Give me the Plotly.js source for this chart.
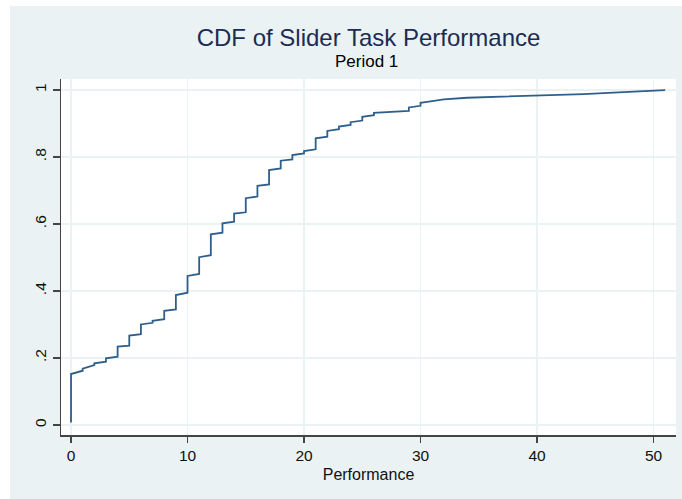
<!DOCTYPE html>
<html>
<head>
<meta charset="utf-8">
<script src="https://cdn.plot.ly/plotly-3.0.1.min.js"></script>
<style>
  html, body { margin: 0; padding: 0; background: #ffffff; }
  #chart { position: absolute; left: 10px; top: 6px; width: 672px; height: 493px; }
</style>
</head>
<body>
<div id="chart"></div>
<script>
// Distinct performance values and the CDF at the first / last observation of each value
const perf    = [0, 1, 2, 3, 4, 5, 6, 7, 8, 9, 10, 11, 12, 13, 14, 15, 16, 17, 18, 19, 20,
                 21, 22, 23, 24, 25, 26, 29, 30, 31, 32, 34, 40, 44, 47, 51];
const cdfLow  = [0.007, 0.162, 0.179, 0.189, 0.204, 0.237, 0.271, 0.305, 0.316, 0.345, 0.395,
                 0.451, 0.507, 0.574, 0.607, 0.635, 0.682, 0.718, 0.766, 0.793, 0.811,
                 0.823, 0.861, 0.883, 0.896, 0.909, 0.925, 0.938, 0.953, 0.967, 0.972,
                 0.977, 0.983, 0.988, 0.993, 1.000];
const cdfHigh = [0.152, 0.168, 0.184, 0.199, 0.234, 0.267, 0.300, 0.311, 0.341, 0.388, 0.445,
                 0.501, 0.569, 0.602, 0.631, 0.677, 0.714, 0.761, 0.789, 0.806, 0.818,
                 0.856, 0.878, 0.891, 0.904, 0.920, 0.932, 0.948, 0.962, 0.967, 0.972,
                 0.977, 0.983, 0.988, 0.993, 1.000];

const yTickVals = [0, 0.2, 0.4, 0.6, 0.8, 1];
const yTickText = ['0', '.2', '.4', '.6', '.8', '1'];
const xTickVals = [0, 10, 20, 30, 40, 50];

// Polyline through each observation: vertical run at each value, then on to the next
const lx = [], ly = [];
for (let i = 0; i < perf.length; i++) {
  lx.push(perf[i]); ly.push(cdfLow[i]);
  if (cdfHigh[i] !== cdfLow[i]) { lx.push(perf[i]); ly.push(cdfHigh[i]); }
}

const trace = {
  x: lx, y: ly, type: 'scatter', mode: 'lines',
  line: { color: '#2e5f8c', width: 1.8 },
  hoverinfo: 'x+y'
};

const font = 'Liberation Sans, Arial, Helvetica, sans-serif';

const layout = {
  width: 672, height: 493,
  margin: { l: 51, r: 6, t: 73, b: 64 },
  paper_bgcolor: '#eaf2f3',
  plot_bgcolor: '#ffffff',
  showlegend: false,
  font: { family: font, color: '#111111', size: 15 },
  title: {
    text: 'CDF of Slider Task Performance',
    font: { family: font, size: 24, color: '#1c2c55' },
    xref: 'paper', x: 0.5, xanchor: 'center',
    yref: 'container', y: 1 - 32 / 493, yanchor: 'middle'
  },
  annotations: [{
    text: 'Period 1', showarrow: false,
    xref: 'paper', yref: 'paper', x: 0.497, y: 1 + 18 / 356,
    xanchor: 'center', yanchor: 'middle',
    font: { family: font, size: 17, color: '#000000' }
  }],
  xaxis: {
    range: [-0.86, 51.93],
    tickvals: xTickVals,
    ticks: 'outside', ticklen: 6, tickwidth: 1.2, tickcolor: '#444444',
    showline: true, linecolor: '#444444', linewidth: 1.5,
    showgrid: true, gridcolor: '#eaf2f3', gridwidth: 1.2,
    zeroline: false,
    tickfont: { family: font, size: 15.5, color: '#111111' },
    title: { text: 'Performance', font: { family: font, size: 16, color: '#111111' }, standoff: 5 }
  },
  yaxis: {
    range: [-0.03, 1.033],
    tickvals: yTickVals, ticktext: yTickText,
    tickangle: -90,
    ticks: 'outside', ticklen: 7, tickwidth: 1.2, tickcolor: '#444444',
    showline: true, linecolor: '#444444', linewidth: 1.5,
    showgrid: true, gridcolor: '#eaf2f3', gridwidth: 1.2,
    zeroline: false,
    tickfont: { family: font, size: 15.5, color: '#111111' }
  }
};

Plotly.newPlot('chart', [trace], layout, { displayModeBar: false, staticPlot: true });
</script>
</body>
</html>
